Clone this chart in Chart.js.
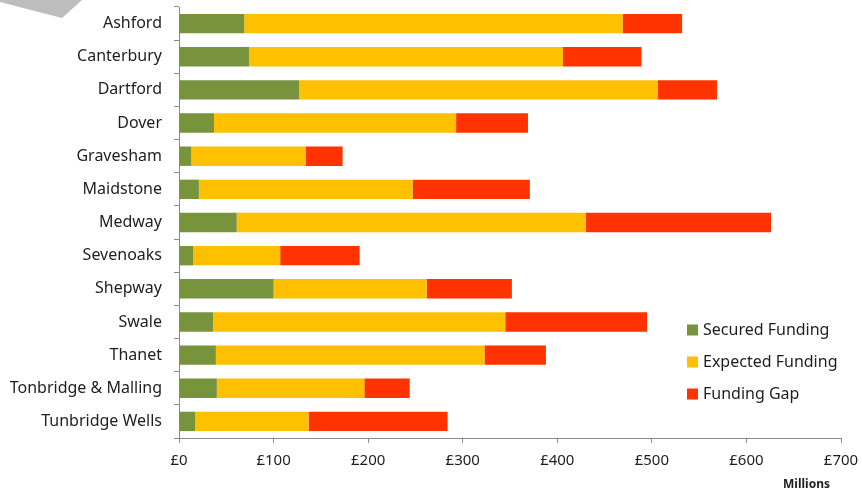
<!DOCTYPE html>
<html>
<head>
<meta charset="utf-8">
<script src="https://cdn.jsdelivr.net/npm/chart.js@4.4.0/dist/chart.umd.min.js"></script>
<style>
  html, body { margin: 0; padding: 0; background: #ffffff; }
  #wrap { width: 862px; height: 491px; }
</style>
</head>
<body>
<div id="wrap"><canvas id="c" width="862" height="491"></canvas></div>
<script>
const categories = ["Ashford", "Canterbury", "Dartford", "Dover", "Gravesham", "Maidstone", "Medway", "Sevenoaks", "Shepway", "Swale", "Thanet", "Tonbridge & Malling", "Tunbridge Wells"];
const securedFunding = [69, 74, 127, 37, 13, 21, 61, 15, 100, 36, 39, 40, 17];
const expectedFunding = [400, 332, 379, 256, 121, 226, 369, 92, 162, 309, 284, 156, 120];
const fundingGap = [63, 83, 63, 76, 39, 124, 196, 84, 90, 150, 65, 48, 147];
const xTickValues = [0, 100, 200, 300, 400, 500, 600, 700];
const xTickPrefix = "£";
const axisUnit = "Millions";

const FONT = "'Noto Sans', 'DejaVu Sans', sans-serif";
const TEXT = "#1e1e1e";
const AXIS = "#8a8a8a";

const decoPlugin = {
  id: 'deco',
  beforeDraw(chart) {
    const ctx = chart.ctx;
    ctx.save();
    ctx.fillStyle = '#bdbdbd';
    ctx.beginPath();
    ctx.moveTo(0, 0);
    ctx.lineTo(82, 0);
    ctx.lineTo(62, 18);
    ctx.lineTo(0, 2);
    ctx.closePath();
    ctx.fill();
    ctx.restore();
  },
  afterDraw(chart) {
    const ctx = chart.ctx;
    const area = chart.chartArea;
    ctx.save();
    const items = chart.data.datasets;
    const lx = 687, ly0 = 330, step = 32, box = 11;
    ctx.font = "16px " + FONT;
    ctx.textBaseline = 'middle';
    ctx.textAlign = 'left';
    items.forEach((ds, i) => {
      const y = ly0 + i * step;
      ctx.fillStyle = ds.backgroundColor;
      ctx.fillRect(lx, y - box / 2, box, box);
      ctx.fillStyle = TEXT;
      ctx.fillText(ds.label, lx + 16, y);
    });
    ctx.font = "bold 12px " + FONT;
    ctx.textAlign = 'right';
    ctx.textBaseline = 'alphabetic';
    ctx.fillStyle = TEXT;
    ctx.fillText(axisUnit, area.right - 11, 488);
    ctx.restore();
  }
};

new Chart(document.getElementById('c'), {
  type: 'bar',
  data: {
    labels: categories,
    datasets: [
      { label: 'Secured Funding', data: securedFunding, backgroundColor: '#77933c' },
      { label: 'Expected Funding', data: expectedFunding, backgroundColor: '#ffc000' },
      { label: 'Funding Gap', data: fundingGap, backgroundColor: '#ff3300' }
    ]
  },
  options: {
    indexAxis: 'y',
    responsive: false,
    animation: false,
    devicePixelRatio: 1,
    barPercentage: 0.585,
    categoryPercentage: 1,
    layout: { padding: { top: 7, right: 21, left: 0, bottom: 0 } },
    plugins: {
      legend: { display: false },
      tooltip: { enabled: false }
    },
    scales: {
      x: {
        stacked: true,
        min: xTickValues[0],
        max: xTickValues[xTickValues.length - 1],
        afterBuildTicks(scale) {
          scale.ticks = xTickValues.map(v => ({ value: v }));
        },
        afterFit(scale) {
          scale.height = 53;
          scale.paddingLeft = 0;
          scale.paddingRight = 0;
        },
        ticks: {
          callback: v => xTickPrefix + v,
          color: TEXT,
          font: { family: FONT, size: 15 },
          padding: 9,
          maxRotation: 0
        },
        grid: { drawOnChartArea: false, drawTicks: true, tickLength: 5, color: AXIS },
        border: { color: AXIS, width: 1 }
      },
      y: {
        stacked: true,
        afterFit(scale) {
          scale.width = 179;
          scale.paddingTop = 0;
          scale.paddingBottom = 0;
        },
        ticks: {
          color: TEXT,
          font: { family: FONT, size: 16 },
          padding: 12
        },
        grid: { offset: true, drawOnChartArea: false, drawTicks: true, tickLength: 5, color: AXIS },
        border: { color: AXIS, width: 1 }
      }
    }
  },
  plugins: [decoPlugin]
});
</script>
</body>
</html>
